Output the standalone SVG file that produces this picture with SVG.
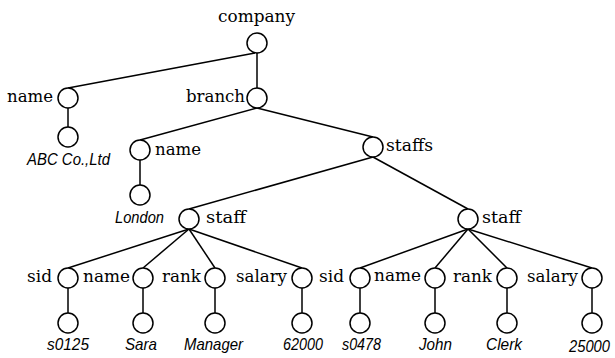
<svg xmlns="http://www.w3.org/2000/svg" width="615" height="358" viewBox="0 0 615 358">
<style>
.n{fill:#fff;stroke:#000;stroke-width:1.5}
.e{stroke:#000;stroke-width:1.5;fill:none}
.l{font-family:"DejaVu Serif","Liberation Serif",serif;font-size:17px;fill:#000}
.v{font-family:"Liberation Sans","DejaVu Sans",Arial,sans-serif;font-size:17px;font-style:italic;fill:#000}
</style>
<rect width="615" height="358" fill="#fff"/>
<g id="connectors">
<line class="e" x1="255" y1="53" x2="68" y2="88"/>
<line class="e" x1="257" y1="53" x2="257" y2="88"/>
<line class="e" x1="68" y1="108" x2="68" y2="127"/>
<line class="e" x1="257" y1="108" x2="140" y2="140"/>
<line class="e" x1="257" y1="108" x2="373" y2="137"/>
<line class="e" x1="140" y1="160" x2="140" y2="185"/>
<line class="e" x1="373" y1="157" x2="189" y2="209"/>
<line class="e" x1="373" y1="157" x2="468" y2="209"/>
<line class="e" x1="189" y1="229" x2="68" y2="268"/>
<line class="e" x1="189" y1="229" x2="143" y2="268"/>
<line class="e" x1="189" y1="229" x2="215" y2="268"/>
<line class="e" x1="189" y1="229" x2="302" y2="268"/>
<line class="e" x1="468" y1="229" x2="360" y2="268"/>
<line class="e" x1="468" y1="229" x2="435" y2="268"/>
<line class="e" x1="468" y1="229" x2="507" y2="268"/>
<line class="e" x1="468" y1="229" x2="592" y2="268"/>
<line class="e" x1="68" y1="288" x2="68" y2="313"/>
<line class="e" x1="143" y1="288" x2="143" y2="313"/>
<line class="e" x1="215" y1="288" x2="215" y2="313"/>
<line class="e" x1="302" y1="288" x2="302" y2="313"/>
<line class="e" x1="360" y1="288" x2="360" y2="313"/>
<line class="e" x1="435" y1="288" x2="435" y2="313"/>
<line class="e" x1="507" y1="288" x2="507" y2="313"/>
<line class="e" x1="592" y1="288" x2="592" y2="313"/>
</g>
<g id="company"><circle class="n" cx="257" cy="43" r="10"/><text class="l" x="218" y="22" textLength="77" lengthAdjust="spacingAndGlyphs">company</text></g>
<g id="name1"><circle class="n" cx="68" cy="98" r="10"/><text class="l" x="7" y="102" textLength="46" lengthAdjust="spacingAndGlyphs">name</text></g>
<g id="abc"><circle class="n" cx="68" cy="137" r="10"/><text class="v" x="27" y="165" textLength="83" lengthAdjust="spacingAndGlyphs">ABC Co.,Ltd</text></g>
<g id="branch"><circle class="n" cx="257" cy="98" r="10"/><text class="l" x="186" y="102" textLength="59" lengthAdjust="spacingAndGlyphs">branch</text></g>
<g id="name2"><circle class="n" cx="140" cy="150" r="10"/><text class="l" x="155" y="155" textLength="46" lengthAdjust="spacingAndGlyphs">name</text></g>
<g id="london"><circle class="n" cx="140" cy="195" r="10"/><text class="v" x="115" y="223" textLength="49" lengthAdjust="spacingAndGlyphs">London</text></g>
<g id="staffs"><circle class="n" cx="373" cy="147" r="10"/><text class="l" x="386" y="151" textLength="47" lengthAdjust="spacingAndGlyphs">staffs</text></g>
<g id="staff1"><circle class="n" cx="189" cy="219" r="10"/><text class="l" x="206" y="223" textLength="40" lengthAdjust="spacingAndGlyphs">staff</text></g>
<g id="staff2"><circle class="n" cx="468" cy="219" r="10"/><text class="l" x="482" y="223" textLength="39" lengthAdjust="spacingAndGlyphs">staff</text></g>
<g id="sid1"><circle class="n" cx="68" cy="278" r="10"/><text class="l" x="27" y="282" textLength="25" lengthAdjust="spacingAndGlyphs">sid</text></g>
<g id="name3"><circle class="n" cx="143" cy="278" r="10"/><text class="l" x="83" y="282" textLength="47" lengthAdjust="spacingAndGlyphs">name</text></g>
<g id="rank1"><circle class="n" cx="215" cy="278" r="10"/><text class="l" x="162" y="282" textLength="39" lengthAdjust="spacingAndGlyphs">rank</text></g>
<g id="salary1"><circle class="n" cx="302" cy="278" r="10"/><text class="l" x="236" y="282" textLength="51" lengthAdjust="spacingAndGlyphs">salary</text></g>
<g id="sid2"><circle class="n" cx="360" cy="278" r="10"/><text class="l" x="319" y="282" textLength="25" lengthAdjust="spacingAndGlyphs">sid</text></g>
<g id="name4"><circle class="n" cx="435" cy="278" r="10"/><text class="l" x="374" y="281" textLength="47" lengthAdjust="spacingAndGlyphs">name</text></g>
<g id="rank2"><circle class="n" cx="507" cy="278" r="10"/><text class="l" x="453" y="282" textLength="39" lengthAdjust="spacingAndGlyphs">rank</text></g>
<g id="salary2"><circle class="n" cx="592" cy="278" r="10"/><text class="l" x="527" y="282" textLength="51" lengthAdjust="spacingAndGlyphs">salary</text></g>
<g id="s0125"><circle class="n" cx="68" cy="323" r="10"/><text class="v" x="47" y="350" textLength="42" lengthAdjust="spacingAndGlyphs">s0125</text></g>
<g id="sara"><circle class="n" cx="143" cy="323" r="10"/><text class="v" x="125" y="350" textLength="32" lengthAdjust="spacingAndGlyphs">Sara</text></g>
<g id="manager"><circle class="n" cx="215" cy="323" r="10"/><text class="v" x="184" y="350" textLength="59" lengthAdjust="spacingAndGlyphs">Manager</text></g>
<g id="v62000"><circle class="n" cx="302" cy="323" r="10"/><text class="v" x="283" y="350" textLength="40" lengthAdjust="spacingAndGlyphs">62000</text></g>
<g id="s0478"><circle class="n" cx="360" cy="323" r="10"/><text class="v" x="342" y="350" textLength="39" lengthAdjust="spacingAndGlyphs">s0478</text></g>
<g id="john"><circle class="n" cx="435" cy="323" r="10"/><text class="v" x="419" y="350" textLength="33" lengthAdjust="spacingAndGlyphs">John</text></g>
<g id="clerk"><circle class="n" cx="507" cy="323" r="10"/><text class="v" x="486" y="350" textLength="36" lengthAdjust="spacingAndGlyphs">Clerk</text></g>
<g id="v25000"><circle class="n" cx="592" cy="323" r="10"/><text class="v" x="569" y="352" font-size="14" textLength="41" lengthAdjust="spacingAndGlyphs">25000</text></g>
</svg>
